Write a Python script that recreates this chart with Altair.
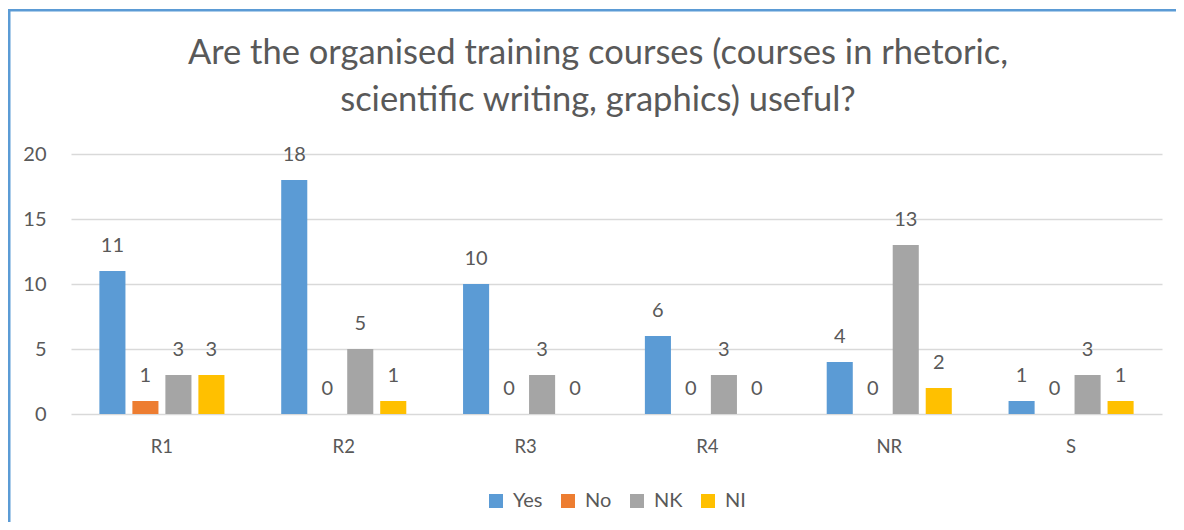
import altair as alt
import pandas as pd

categories = ["R1", "R2", "R3", "R4", "NR", "S"]
series = ["Yes", "No", "NK", "NI"]
yes_vals = [11, 18, 10, 6, 4, 1]
no_vals = [1, 0, 0, 0, 0, 0]
nk_vals = [3, 5, 3, 3, 13, 3]
ni_vals = [3, 1, 0, 0, 2, 1]
colors = ["#5B9BD5", "#ED7D31", "#A5A5A5", "#FFC000"]
title_text = ("Are the organised training courses (courses in rhetoric,\n"
              "scientific writing, graphics) useful?")

rows = []
for s, vals in zip(series, [yes_vals, no_vals, nk_vals, ni_vals]):
    for c, v in zip(categories, vals):
        rows.append({"cat": c, "series": s, "value": v})
df = pd.DataFrame(rows)
one = pd.DataFrame({"t": [title_text]})

FONT = "Lato"
TXT = "#595959"
FRAME = "#5B9BD5"

x = alt.X("cat:N", sort=categories,
          scale=alt.Scale(paddingInner=0, paddingOuter=0),
          axis=alt.Axis(title=None, labelAngle=0, domain=False, ticks=False,
                        labelPadding=23, labelFontSize=18.5, labelColor=TXT, labelFont=FONT))
xo = alt.XOffset("series:N", sort=series,
                 scale=alt.Scale(paddingInner=0.21, paddingOuter=0.86))
y = alt.Y("value:Q", scale=alt.Scale(domain=[0, 20]),
          axis=alt.Axis(title=None, values=[0, 5, 10, 15, 20], domain=False, ticks=False,
                        labelPadding=25, labelFontSize=20, labelColor=TXT, labelFont=FONT,
                        gridColor="#D9D9D9", gridWidth=1.3))
color = alt.Color("series:N", sort=series,
                  scale=alt.Scale(domain=series, range=colors),
                  legend=alt.Legend(title=None, orient="none", direction="horizontal",
                                    legendX=415, legendY=337, symbolType="square",
                                    symbolSize=196, symbolStrokeWidth=0,
                                    labelFontSize=20, labelFont=FONT, labelColor=TXT,
                                    labelOffset=7, columnPadding=15, padding=0))

base = alt.Chart(df)
bars = base.mark_bar().encode(x=x, xOffset=xo, y=y, color=color)
labels = base.mark_text(baseline="middle", dy=-25, fontSize=20, font=FONT, color=TXT).encode(
    x=x, xOffset=xo, y=y, text="value:Q")

title = alt.Chart(one).mark_text(
    align="center", baseline="alphabetic", lineBreak="\n", lineHeight=47,
    fontSize=34.5, font=FONT, color=TXT
).encode(x=alt.value(527), y=alt.value(-90), text="t:N")

frame_left = alt.Chart(one).mark_rect(color=FRAME).encode(
    x=alt.value(-63), x2=alt.value(-60.5), y=alt.value(-145), y2=alt.value(380))
frame_top = alt.Chart(one).mark_rect(color=FRAME).encode(
    x=alt.value(-63), x2=alt.value(1120), y=alt.value(-145), y2=alt.value(-142.5))

chart = alt.layer(frame_left, frame_top, title, bars, labels).properties(
    width=1091, height=260,
    autosize=alt.AutoSizeParams(type="none"),
    padding={"left": 63, "top": 146, "right": 14, "bottom": 108},
).configure_view(stroke=None)

chart.save("out.html", embed_options={"renderer": "svg", "actions": False})
